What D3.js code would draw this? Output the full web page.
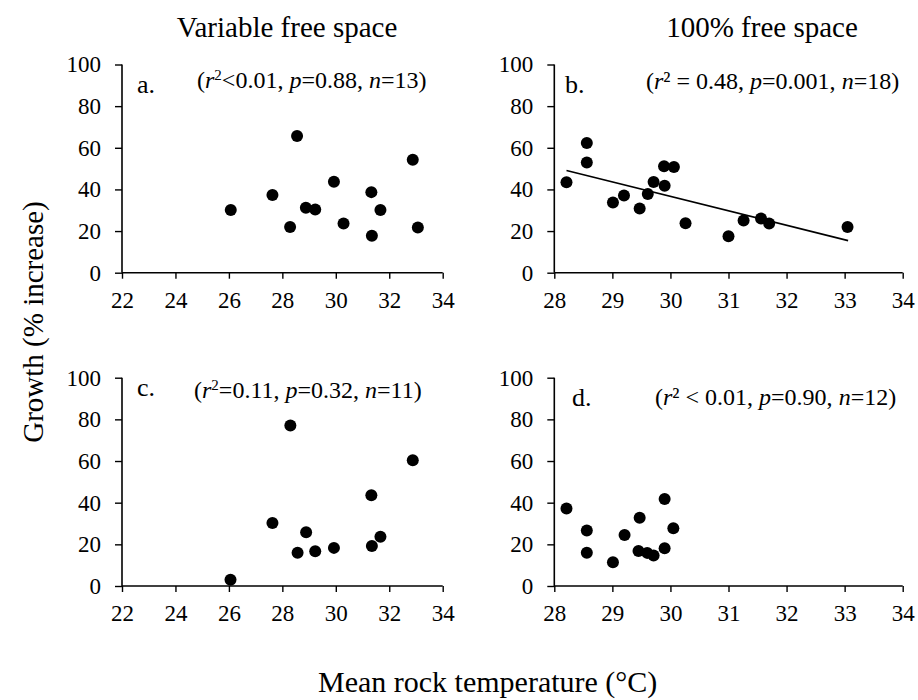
<!DOCTYPE html>
<html>
<head>
<meta charset="utf-8">
<script src="https://cdn.jsdelivr.net/npm/d3@7"></script>
<style>
  body { margin: 0; background: #fff; }
  svg { display: block; }
  svg text { font-family: "Liberation Serif", "Times New Roman", serif; fill: #000; }
</style>
</head>
<body>
<svg id="chart" width="918" height="700" font-family="Liberation Serif, Times New Roman, serif"></svg>
<script>
// Mean rock temperature (°C) and growth (% increase) per panel
const panelATemp   = [26.07, 27.63, 28.29, 28.55, 28.88, 29.23, 29.93, 30.29, 31.33, 31.35, 31.67, 32.88, 33.07];
const panelAGrowth = [30.1, 37.3, 21.9, 65.7, 31.2, 30.4, 43.7, 23.6, 38.7, 17.8, 30.1, 54.3, 21.7];

const panelBTemp   = [28.21, 28.56, 28.56, 29.01, 29.20, 29.47, 29.61, 29.71, 29.89, 29.90, 30.06, 30.26, 31.00, 31.26, 31.56, 31.70, 33.05];
const panelBGrowth = [43.4, 62.3, 52.9, 33.7, 37.1, 30.8, 37.8, 43.6, 51.1, 41.8, 50.8, 23.8, 17.5, 25.1, 26.0, 23.6, 22.0];
// Fitted regression line end points for panel b
const panelBFitTemp   = [28.21, 33.06];
const panelBFitGrowth = [49.1, 15.4];

const panelCTemp   = [26.06, 27.63, 28.30, 28.57, 28.89, 29.23, 29.93, 31.33, 31.35, 31.67, 32.88];
const panelCGrowth = [3.0, 30.3, 77.0, 16.0, 25.8, 16.7, 18.3, 43.6, 19.2, 23.7, 60.4];

const panelDTemp   = [28.21, 28.56, 28.56, 29.01, 29.21, 29.47, 29.45, 29.60, 29.71, 29.90, 29.90, 30.05];
const panelDGrowth = [37.2, 26.6, 16.0, 11.4, 24.5, 32.8, 16.8, 15.9, 14.6, 41.8, 18.1, 27.7];

// Tick values
const wideTempTicks   = [22, 24, 26, 28, 30, 32, 34];
const narrowTempTicks = [28, 29, 30, 31, 32, 33, 34];
const growthTicks     = [0, 20, 40, 60, 80, 100];

// Column titles and axis titles
const columnTitles = ["Variable free space", "100% free space"];
const xTitle = "Mean rock temperature (°C)";
const yTitle = "Growth (% increase)";

// Panel letters and statistics (segments: text, italic, superscript)
const panelLetters = ["a.", "b.", "c.", "d."];
const panelStats = [
  [["(", 0], ["r", 1], ["2", 0, 1], ["<0.01, ", 0], ["p", 1], ["=0.88, ", 0], ["n", 1], ["=13)", 0]],
  [["(", 0], ["r", 1], ["² = 0.48, ", 0], ["p", 1], ["=0.001, ", 0], ["n", 1], ["=18)", 0]],
  [["(", 0], ["r", 1], ["2", 0, 1], ["=0.11, ", 0], ["p", 1], ["=0.32, ", 0], ["n", 1], ["=11)", 0]],
  [["(", 0], ["r", 1], ["² < 0.01, ", 0], ["p", 1], ["=0.90, ", 0], ["n", 1], ["=12)", 0]]
];

const SERIF = '"Liberation Serif", "Times New Roman", serif';
const svg = d3.select("#chart");

const panels = [
  { temp: panelATemp, growth: panelAGrowth, domain: [22, 34], ticks: wideTempTicks,
    left: 122, right: 442.7, top: 64.5, bottom: 272.7,
    letterPos: [137, 93], statPos: [197, 88] },
  { temp: panelBTemp, growth: panelBGrowth, domain: [28, 34], ticks: narrowTempTicks,
    left: 554.3, right: 902.7, top: 64.5, bottom: 272.7,
    letterPos: [565, 93], statPos: [646, 89],
    fit: { temp: panelBFitTemp, growth: panelBFitGrowth } },
  { temp: panelCTemp, growth: panelCGrowth, domain: [22, 34], ticks: wideTempTicks,
    left: 122, right: 442.7, top: 377.7, bottom: 586,
    letterPos: [137, 396], statPos: [194, 398] },
  { temp: panelDTemp, growth: panelDGrowth, domain: [28, 34], ticks: narrowTempTicks,
    left: 554.3, right: 902.7, top: 377.7, bottom: 586,
    letterPos: [572, 406], statPos: [655, 405] }
];

panels.forEach((p, i) => {
  const x = d3.scaleLinear().domain(p.domain).range([p.left, p.right]);
  const y = d3.scaleLinear().domain([0, 100]).range([p.bottom, p.top]);
  const g = svg.append("g");

  // x axis
  const xAxis = g.append("g")
    .attr("transform", `translate(0,${p.bottom})`)
    .call(d3.axisBottom(x).tickValues(p.ticks).tickSize(6).tickPadding(13).tickFormat(d3.format("d")));
  // y axis
  const yAxis = g.append("g")
    .attr("transform", `translate(${p.left},0)`)
    .call(d3.axisLeft(y).tickValues(growthTicks).tickSize(7).tickPadding(14).tickFormat(d3.format("d")));

  [xAxis, yAxis].forEach(ax => {
    ax.attr("font-family", SERIF).attr("font-size", 23);
    ax.select(".domain").attr("stroke", "#000").attr("stroke-width", 1.6);
    ax.selectAll(".tick line").attr("stroke", "#000").attr("stroke-width", 1.4);
    ax.selectAll(".tick text")
      .style("font-family", SERIF)
      .style("font-size", "23px").attr("fill", "#000");
  });
  // straight axis lines without end caps
  xAxis.select(".domain").attr("d", `M${p.left},0H${p.right}`);
  yAxis.select(".domain").attr("d", `M0,${p.top}V${p.bottom}`);

  // regression line
  if (p.fit) {
    const line = d3.line().x((d, k) => x(p.fit.temp[k])).y((d, k) => y(p.fit.growth[k]));
    g.append("path").datum(p.fit.temp)
      .attr("d", line).attr("fill", "none").attr("stroke", "#000").attr("stroke-width", 1.6);
  }

  // points
  g.selectAll("circle.pt").data(p.temp).join("circle")
    .attr("class", "pt")
    .attr("cx", (d) => x(d))
    .attr("cy", (d, k) => y(p.growth[k]))
    .attr("r", 6)
    .attr("fill", "#000");

  // panel letter
  g.append("text")
    .attr("x", p.letterPos[0]).attr("y", p.letterPos[1])
    .style("font-family", SERIF)
    .style("font-size", "26px")
    .text(panelLetters[i]);

  // statistics
  const st = g.append("text")
    .attr("x", p.statPos[0]).attr("y", p.statPos[1])
    .style("font-family", SERIF)
    .style("font-size", "24px");
  panelStats[i].forEach(seg => {
    const t = st.append("tspan").text(seg[0]);
    if (seg[1]) t.style("font-style", "italic");
    if (seg[2]) t.style("font-size", "15px").attr("baseline-shift", "super");
  });
});

// Column titles
svg.append("text").attr("x", 287).attr("y", 37).attr("text-anchor", "middle")
  .style("font-family", SERIF).style("font-size", "29px").text(columnTitles[0]);
svg.append("text").attr("x", 762).attr("y", 37).attr("text-anchor", "middle")
  .style("font-family", SERIF).style("font-size", "29px").text(columnTitles[1]);

// Axis titles
svg.append("text").attr("x", 318).attr("y", 692)
  .style("font-family", SERIF).style("font-size", "30px").text(xTitle);
svg.append("text")
  .attr("transform", "translate(43,322) rotate(-90)")
  .attr("text-anchor", "middle")
  .style("font-family", SERIF).style("font-size", "29px").text(yTitle);
</script>
</body>
</html>
